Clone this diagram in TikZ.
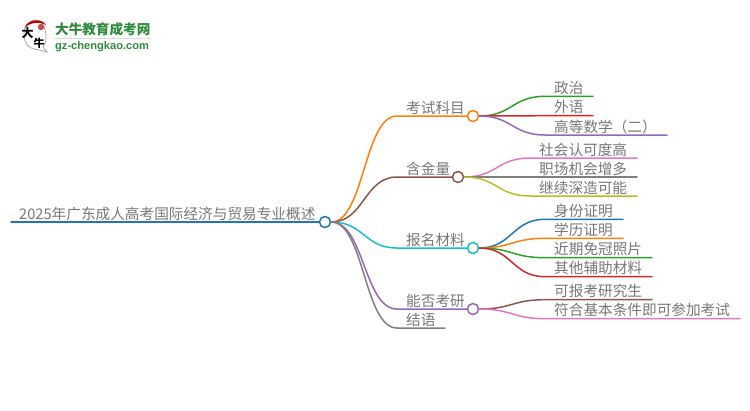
\documentclass[tikz,border=0pt]{standalone}
\usepackage{fontspec}
\usetikzlibrary{calc}
\newfontfamily\cjk{Noto Sans CJK SC}
\newfontfamily\latinb{Liberation Sans}
\definecolor{cOrange}{HTML}{FF7F0E}
\definecolor{cBrown}{HTML}{8C564B}
\definecolor{cCyan}{HTML}{17BECF}
\definecolor{cPurple}{HTML}{9467BD}
\definecolor{cGray}{HTML}{7F7F7F}
\definecolor{cBlue}{HTML}{1F77B4}
\definecolor{cGreen}{HTML}{2CA02C}
\definecolor{cRed}{HTML}{D62728}
\definecolor{cPink}{HTML}{E377C2}
\definecolor{cOlive}{HTML}{BCBD22}
\definecolor{cText}{HTML}{777777}
\definecolor{logoGreen}{HTML}{2E8B3D}
\tikzset{
  lbl/.style={anchor=base west,inner sep=0pt,text=cText,font=\cjk\fontsize{14.65}{16}\selectfont},
  dot/.style={circle,draw=#1,fill=white,line width=1.5pt,minimum size=11pt,inner sep=0pt},
  wire/.style={draw=#1,line width=1.5pt,line cap=round},
}
% \kid{colour}{parent anchor}{name}{bend x}{line y}{end x}{text x}{text}
\newcommand{\kid}[8]{%
  \coordinate (#3b) at (#4,#5);
  \coordinate (#3e) at (#6,#5);
  \coordinate (#3m) at ($(#2)!0.5!(#3b)$);
  \node[lbl] (#3) at (#7,#5-2.8) {#8};
  \draw[wire=#1] (#2) .. controls (#3m |- #2) and (#3m |- #3b) .. (#3b) -- (#3e);
}
\begin{document}
\begin{tikzpicture}[x=1pt,y=-1pt]
\useasboundingbox (0,0) rectangle (750,410);
% logo
\draw[gray!70,line width=0.8pt,fill=white] (46,37) .. controls (46,42) and (45,45) .. (43,47) -- (47,52) -- (37,49.5) .. controls (28,49) and (24,42) .. (24,34) .. controls (24,26) and (29,20) .. (35,20) .. controls (42,20) and (46,28) .. (46,37);
\fill[red!75!black] (24.5,28) .. controls (27,20) and (41,17) .. (46,25) .. controls (40,21.5) and (30,22) .. (24.5,28);
\fill[red!70!black!70] (41,27) circle (3.2pt);
\node[inner sep=0pt,font=\cjk\bfseries\fontsize{12}{12}\selectfont] (logoA) at (27.5,32.5) {大};
\node[inner sep=0pt,font=\cjk\bfseries\fontsize{11}{11}\selectfont] (logoB) at (39,43.5) {牛};
\node[anchor=base west,inner sep=0pt,text=logoGreen,font=\cjk\bfseries\fontsize{13.6}{14}\selectfont] (logoT) at (55,34) {大牛教育成考网};
\draw[gray!30,line width=0.8pt] (55,38.5) -- (150,38.5);
\node[anchor=base west,inner sep=0pt,text=logoGreen,font=\latinb\bfseries\fontsize{11.1}{13}\selectfont] (logoU) at (55,49) {gz-chengkao.com};
% root
\node[dot=cBlue] (root) at (325,222) {};
\coordinate (rootL) at (11,222);
\draw[wire=cBlue] (rootL) -- (root.west);
\node[lbl] (rootT) at (19,219.2) {2025年广东成人高考国际经济与贸易专业概述};
% main branches
\node[dot=cOrange] (a) at (473,116) {};
\node[dot=cBrown] (b) at (458,177) {};
\node[dot=cCyan] (c) at (473,248) {};
\node[dot=cPurple] (d) at (473,309) {};
\kid{cOrange}{root.east}{at}{397}{116}{467}{406}{考试科目}
\kid{cBrown}{root.east}{bt}{397}{177}{452}{406}{含金量}
\kid{cCyan}{root.east}{ct}{397}{248}{467}{406}{报名材料}
\kid{cPurple}{root.east}{dt}{397}{309}{467}{406}{能否考研}
\kid{cGray}{root.east}{et}{397}{328}{445}{406}{结语}
% leaves
\kid{cGreen}{a.east}{a1}{545}{96.3}{593}{554}{政治}
\kid{cRed}{a.east}{a2}{545}{115.7}{593}{554}{外语}
\kid{cPurple}{a.east}{a3}{545}{135}{667}{554}{高等数学（二）}
\kid{cPink}{b.east}{b1}{530}{158}{637}{539}{社会认可度高}
\kid{cGray}{b.east}{b2}{530}{177}{637}{539}{职场机会增多}
\kid{cOlive}{b.east}{b3}{530}{196}{637}{539}{继续深造可能}
\kid{cBlue}{c.east}{c1}{545}{219.3}{623}{554}{身份证明}
\kid{cOrange}{c.east}{c2}{545}{238.3}{623}{554}{学历证明}
\kid{cGreen}{c.east}{c3}{545}{257.7}{652}{554}{近期免冠照片}
\kid{cRed}{c.east}{c4}{545}{276.7}{652}{554}{其他辅助材料}
\kid{cBrown}{d.east}{d1}{545}{299.7}{652}{554}{可报考研究生}
\kid{cPink}{d.east}{d2}{545}{318.7}{740}{554}{符合基本条件即可参加考试}
\end{tikzpicture}
\end{document}
